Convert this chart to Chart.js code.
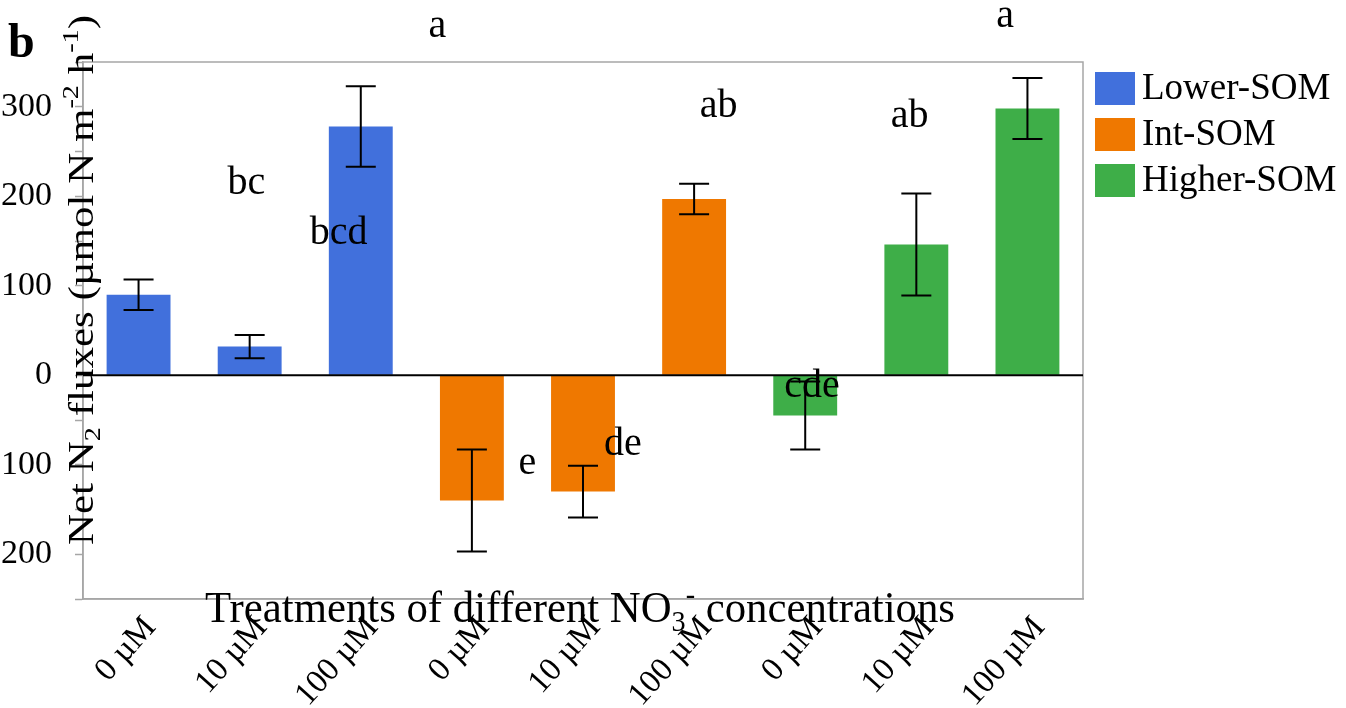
<!DOCTYPE html>
<html>
<head>
<meta charset="utf-8">
<script src="https://cdn.jsdelivr.net/npm/chart.js@4.4.0/dist/chart.umd.min.js"></script>
<style>
    html, body { margin: 0; padding: 0; background: #fff; }
    #wrap { position: relative; width: 1346px; height: 708px; }
</style>
</head>
<body>
<div id="wrap"><canvas id="myChart"></canvas></div>
<script>
const etiquetas = ['0 µM', '10 µM', '100 µM', '0 µM', '10 µM', '100 µM', '0 µM', '10 µM', '100 µM'];
const series = ['Lower-SOM', 'Int-SOM', 'Higher-SOM'];

const lowerSOM  = [90, 32, 278, null, null, null, null, null, null];
const intSOM    = [null, null, null, -140, -130, 197, null, null, null];
const higherSOM = [null, null, null, null, null, null, -45, 146, 298];

const lowerErr  = [17, 13, 45, null, null, null, null, null, null];
const intErr    = [null, null, null, 57, 29, 17, null, null, null];
const higherErr = [null, null, null, null, null, null, 38, 57, 34];

// significance letters, one per bar
const letras = ['bc', 'bcd', 'a', 'e', 'de', 'ab', 'cde', 'ab', 'a'];
// labelled y ticks
const yEtiquetas = [-200, -100, 0, 100, 200, 300];

// where the letters sit (category units, axis units)
const letraX = [0.97, 1.80, 2.69, 3.50, 4.36, 5.22, 6.06, 6.94, 7.80];
const letraY = [202, 147, 378, -110, -89, 289, -24, 277, 389];

const serif = "'Liberation Serif', 'Times New Roman', serif";
const colores = ['rgb(65, 112, 220)', 'rgb(239, 120, 0)', 'rgb(62, 174, 72)'];

function medirRich(ctx, partes, size) {
    let total = 0;
    partes.forEach(p => {
        ctx.font = (p.sub || p.sup ? Math.round(size * 0.65) : size) + 'px ' + serif;
        p.w = ctx.measureText(p.t).width;
        total += p.w;
    });
    return total;
}

function pintarRich(ctx, partes, size, x0) {
    let x = x0;
    partes.forEach(p => {
        ctx.font = (p.sub || p.sup ? Math.round(size * 0.65) : size) + 'px ' + serif;
        let dy = 0;
        if (p.sub) dy = size * 0.2;
        if (p.sup) dy = -size * 0.42;
        ctx.fillText(p.t, x, dy);
        x += p.w;
    });
}

const errorBars = {
    id: 'errorBars',
    afterDatasetsDraw(chart) {
        const ctx = chart.ctx;
        const y = chart.scales.y;
        const errores = [lowerErr, intErr, higherErr];
        ctx.save();
        ctx.strokeStyle = '#000';
        ctx.lineWidth = 2;
        chart.data.datasets.forEach((ds, d) => {
            const meta = chart.getDatasetMeta(d);
            ds.data.forEach((v, i) => {
                if (v === null || errores[d][i] === null) return;
                const x = meta.data[i].x;
                const yTop = y.getPixelForValue(v + errores[d][i]);
                const yBot = y.getPixelForValue(v - errores[d][i]);
                ctx.beginPath();
                ctx.moveTo(x, yTop); ctx.lineTo(x, yBot);
                ctx.moveTo(x - 15, yTop); ctx.lineTo(x + 15, yTop);
                ctx.moveTo(x - 15, yBot); ctx.lineTo(x + 15, yBot);
                ctx.stroke();
            });
        });

        // zero line
        const a = chart.chartArea;
        const y0 = y.getPixelForValue(0);
        ctx.beginPath();
        ctx.moveTo(a.left, y0); ctx.lineTo(a.right, y0);
        ctx.stroke();

        // letters
        const ancho = (a.right - a.left) / etiquetas.length;
        ctx.fillStyle = '#000';
        ctx.font = '40px ' + serif;
        ctx.textAlign = 'center';
        ctx.textBaseline = 'alphabetic';
        letras.forEach((l, i) => {
            ctx.fillText(l, a.left + (letraX[i] + 0.5) * ancho, y.getPixelForValue(letraY[i]));
        });
        ctx.restore();
    }
};

const marco = {
    id: 'marco',
    beforeDatasetsDraw(chart) {
        const {ctx, chartArea: a} = chart;
        ctx.save();
        ctx.strokeStyle = '#a6a6a6';
        ctx.lineWidth = 1.5;
        ctx.strokeRect(a.left, a.top, a.right - a.left, a.bottom - a.top);
        ctx.restore();
    },
    afterDraw(chart) {
        const {ctx, chartArea: a} = chart;
        ctx.save();
        ctx.fillStyle = '#000';
        ctx.textAlign = 'left';
        ctx.textBaseline = 'alphabetic';

        // panel letter
        ctx.font = 'bold 48px ' + serif;
        ctx.fillText('b', 8, 57);

        // legend, right of the plot
        ctx.font = '37px ' + serif;
        series.forEach((s, i) => {
            const top = a.top + 10 + i * 46;
            ctx.fillStyle = colores[i];
            ctx.fillRect(a.right + 12, top, 40, 33);
            ctx.fillStyle = '#000';
            ctx.fillText(s, a.right + 59, top + 27);
        });

        // y title
        const yTitulo = [{t: 'Net N'}, {t: '2', sub: true}, {t: ' fluxes (µmol N m'}, {t: '-2', sup: true},
            {t: ' h'}, {t: '-1', sup: true}, {t: ')'}];
        let w = medirRich(ctx, yTitulo, 35);
        ctx.save();
        ctx.translate(93, 280);
        ctx.rotate(-Math.PI / 2);
        ctx.scale(530 / w, 1);
        pintarRich(ctx, yTitulo, 35, -w / 2);
        ctx.restore();

        // x title
        const xTitulo = [{t: 'Treatments of different NO'}, {t: '3', sub: true}, {t: '-', sup: true},
            {t: ' concentrations'}];
        w = medirRich(ctx, xTitulo, 44);
        ctx.save();
        ctx.translate(580, 622);
        ctx.scale(750 / w, 1);
        pintarRich(ctx, xTitulo, 44, -w / 2);
        ctx.restore();

        ctx.restore();
    }
};

const grafica = document.querySelector('#myChart');

const datasets = [lowerSOM, intSOM, higherSOM].map((d, i) => ({
    label: series[i],
    data: d,
    backgroundColor: colores[i],
    borderWidth: 0,
    grouped: false,
    barPercentage: 0.575,
    categoryPercentage: 1
}));

new Chart(grafica, {
    type: 'bar',
    data: {
        labels: etiquetas,
        datasets: datasets
    },
    options: {
        responsive: true,
        maintainAspectRatio: false,
        animation: false,
        layout: {
            padding: {top: 62, left: 0, right: 263, bottom: 0}
        },
        plugins: {
            legend: {display: false},
            title: {display: false},
            tooltip: {enabled: false}
        },
        scales: {
            x: {
                offset: true,
                grid: {display: false},
                border: {display: true, color: '#a6a6a6', width: 1.5},
                ticks: {
                    font: {family: serif, size: 33},
                    color: '#000',
                    minRotation: 48,
                    maxRotation: 48,
                    autoSkip: false,
                    labelOffset: 12,
                    padding: 2
                },
                afterFit(scale) { scale.height = 109; }
            },
            y: {
                min: -250,
                max: 350,
                grid: {
                    drawOnChartArea: false,
                    tickColor: '#a6a6a6',
                    tickLength: 8,
                    tickWidth: 1.5
                },
                border: {display: true, color: '#a6a6a6', width: 1.5},
                ticks: {
                    stepSize: 50,
                    font: {family: serif, size: 34},
                    color: '#000',
                    padding: 23,
                    callback: v => yEtiquetas.includes(v) ? v : ''
                },
                afterFit(scale) { scale.width = 83; }
            }
        }
    },
    plugins: [marco, errorBars]
});
</script>
</body>
</html>
